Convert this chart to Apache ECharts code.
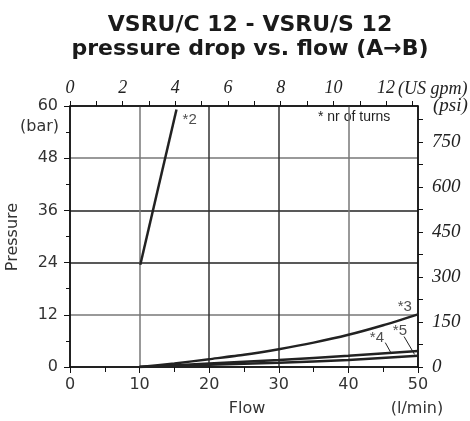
<!DOCTYPE html>
<html>
<head>
<meta charset="utf-8">
<script src="https://cdn.jsdelivr.net/npm/echarts@6/dist/echarts.min.js"></script>
<style>
  html, body { margin: 0; background: #fff; }
  #chart { width: 470px; height: 421px; }
</style>
</head>
<body>
<div id="chart"></div>
<script>
// axis ranges
var flowMax = 50;          // l/min
var barMax = 60;           // bar
var lminPerGpm = 3.785;
var psiPerBar = 14.5038;

// curves, [flow l/min, pressure bar]
var curve2 = [[10.1, 23.5], [15.3, 59.2]];
var curve3 = [[10, 0], [15, 0.8], [20, 1.8], [25, 2.8], [30, 4.1], [35, 5.6], [40, 7.4], [45, 9.6], [50, 12.1]];
var curve4 = [[10, 0], [20, 0.8], [30, 1.6], [40, 2.6], [50, 3.7]];
var curve5 = [[10, 0], [20, 0.5], [30, 1.0], [40, 1.6], [50, 2.6]];

// curve notes (nr of turns) and their leader lines
var noteText = ['*2', '*3', '*4', '*5'];
var notePos = [[17.2, 56.7], [48.1, 13.8], [44.1, 6.7], [47.4, 8.3]];
var leader4 = [[45.3, 5.6], [46.1, 3.3]];
var leader5 = [[48.0, 7.0], [49.5, 2.9]];

var sans = 'DejaVu Sans';
var serif = 'Liberation Serif';
var ink = '#222';

var chart = echarts.init(document.getElementById('chart'));

function curve(data) {
  return {
    type: 'line', xAxisIndex: 0, yAxisIndex: 0, data: data,
    symbol: 'none', smooth: 0.2, silent: true,
    lineStyle: { color: ink, width: 2.5 }
  };
}
function leader(data) {
  return {
    type: 'line', xAxisIndex: 0, yAxisIndex: 0, data: data,
    symbol: 'none', silent: true,
    lineStyle: { color: ink, width: 1 }
  };
}

chart.setOption({
  animation: false,
  title: {
    text: 'VSRU/C 12 - VSRU/S 12\npressure drop vs. flow (A\u2192B)',
    left: 245, textAlign: 'center', top: 8,
    textStyle: { fontFamily: sans, fontWeight: 'bold', fontSize: 22, lineHeight: 24, color: '#1a1a1a' }
  },
  grid: { left: 70, right: 52, top: 106, bottom: 54 },
  xAxis: [{
    type: 'value', position: 'bottom', min: 0, max: flowMax, interval: 10,
    axisLine: { onZero: false, lineStyle: { color: '#111', width: 1.5 } },
    axisTick: { inside: false, length: 6, lineStyle: { color: '#111' } },
    minorTick: { show: true, splitNumber: 2, length: 5, lineStyle: { color: '#111' } },
    axisLabel: { fontFamily: sans, fontSize: 16, color: '#333', margin: 10 },
    splitLine: { show: true, lineStyle: { color: ['#222', '#777', '#333', '#333', '#777', '#222'], width: 1.5 } }
  }, {
    type: 'value', position: 'top', min: 0, max: flowMax / lminPerGpm, interval: 1,
    axisLine: { show: true, onZero: false, lineStyle: { color: '#111', width: 1.5 } },
    axisTick: { show: true, inside: false, length: 5, lineStyle: { color: '#111' } },
    axisLabel: {
      fontFamily: serif, fontStyle: 'italic', fontSize: 18, color: ink, margin: 9,
      showMaxLabel: false,
      formatter: function (v) { return v % 2 === 0 ? String(v) : ''; }
    },
    splitLine: { show: false }
  }],
  yAxis: [{
    type: 'value', position: 'left', min: 0, max: barMax, interval: 12,
    axisLine: { show: true, onZero: false, lineStyle: { color: '#111', width: 1.5 } },
    axisTick: { show: true, inside: false, length: 6, lineStyle: { color: '#111' } },
    minorTick: { show: true, splitNumber: 2, length: 4, lineStyle: { color: '#111' } },
    axisLabel: { fontFamily: sans, fontSize: 16, color: '#333', margin: 12 },
    splitLine: { show: true, lineStyle: { color: ['#222', '#777', '#222', '#222', '#777', '#222'], width: 1.5 } }
  }, {
    type: 'value', position: 'right', min: 0, max: barMax * psiPerBar, interval: 75,
    axisLine: { show: true, onZero: false, lineStyle: { color: '#111', width: 1.5 } },
    axisTick: { show: true, inside: false, length: 5, lineStyle: { color: '#111' } },
    axisLabel: {
      fontFamily: serif, fontStyle: 'italic', fontSize: 19, color: ink, margin: 14,
      showMaxLabel: false,
      formatter: function (v) { return v % 150 === 0 ? String(v) : ''; }
    },
    splitLine: { show: false }
  }],
  graphic: [
    { type: 'text', left: 20, top: 119, style: { text: '(bar)', font: '16px "DejaVu Sans"', fill: '#333' } },
    { type: 'text', x: 13, y: 237, rotation: Math.PI / 2, style: { text: 'Pressure', font: '16px "DejaVu Sans"', fill: '#333', align: 'center', verticalAlign: 'middle' } },
    { type: 'text', x: 247, y: 409, style: { text: 'Flow', font: '16px "DejaVu Sans"', fill: '#333', align: 'center', verticalAlign: 'middle' } },
    { type: 'text', x: 417, y: 409, style: { text: '(l/min)', font: '16px "DejaVu Sans"', fill: '#333', align: 'center', verticalAlign: 'middle' } },
    { type: 'text', x: 398, y: 89, style: { text: '(US gpm)', font: 'italic 18px "Liberation Serif"', fill: ink, align: 'left', verticalAlign: 'middle' } },
    { type: 'text', x: 433, y: 106, style: { text: '(psi)', font: 'italic 19px "Liberation Serif"', fill: ink, align: 'left', verticalAlign: 'middle' } },
    { type: 'text', x: 318, y: 117, style: { text: '* nr of turns', font: '14px "Liberation Sans"', fill: ink, align: 'left', verticalAlign: 'middle' } }
  ],
  series: [
    curve(curve2), curve(curve3), curve(curve4), curve(curve5),
    leader(leader4), leader(leader5),
    {
      type: 'scatter', xAxisIndex: 0, yAxisIndex: 0, silent: true,
      data: notePos.map(function (p, i) { return { value: p, name: noteText[i] }; }),
      symbolSize: 0,
      label: {
        show: true, position: 'inside', formatter: '{b}',
        fontFamily: 'Liberation Sans', fontSize: 15, color: ink
      }
    }
  ]
});
</script>
</body>
</html>
